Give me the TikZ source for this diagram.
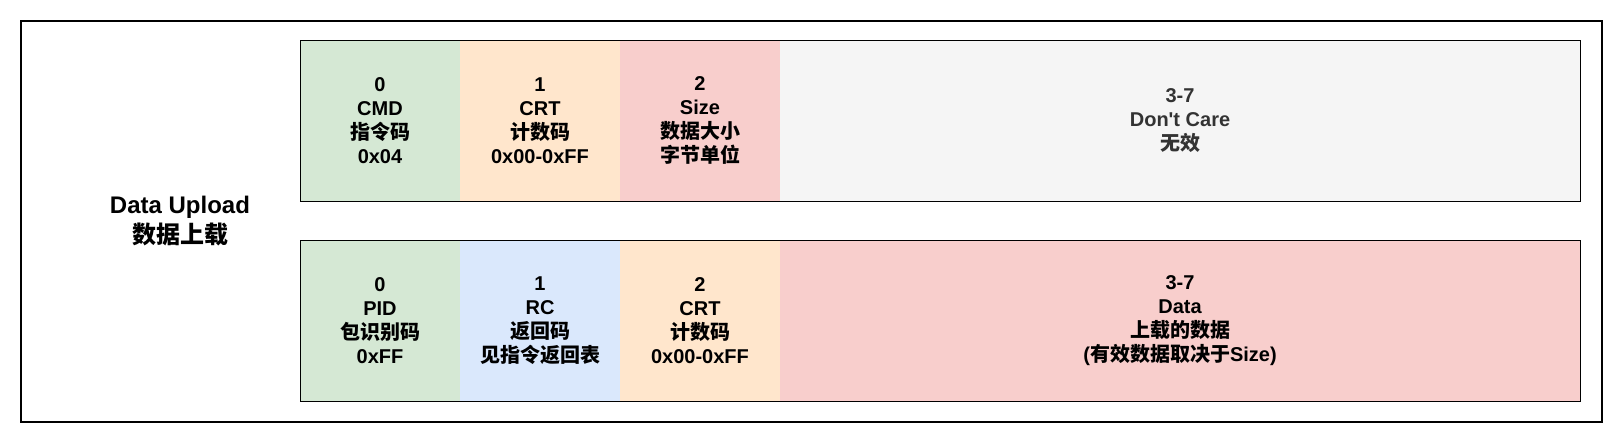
\documentclass[tikz,border=0pt]{standalone}
\usepackage{fontspec}
\setmainfont{Liberation Sans}[Ligatures=TeXOff]
\newfontfamily\cjk{Noto Sans CJK SC}
\definecolor{cgreen}{HTML}{D5E8D4}
\definecolor{corange}{HTML}{FFE6CC}
\definecolor{cred}{HTML}{F8CECC}
\definecolor{cgray}{HTML}{F5F5F5}
\definecolor{cblue}{HTML}{DAE8FC}
\definecolor{cdark}{HTML}{333333}
\begin{document}
\begin{tikzpicture}[x=1pt,y=-1pt,
  cell/.style={minimum width=160pt, minimum height=161pt, inner sep=0pt, outer sep=0pt,
    align=center, anchor=north west, font=\fontsize{20}{24}\selectfont\bfseries},
  wide/.style={cell, minimum width=800pt},
  rowframe/.style={draw=black, line width=1pt},
  label/.style={align=center, font=\fontsize{24}{29.5}\selectfont\bfseries}
]
\useasboundingbox (0,0) rectangle (1622,442);
\node[draw=black, line width=2pt, minimum width=1581pt, minimum height=401pt, anchor=north west, inner sep=0pt] (outer) at (20,20) {};
\node[label] (title) at (180,221) {Data Upload\\{\cjk 数据上载}};
% top row
\node[cell, fill=cgreen] (a0) at (300,40) {0\\CMD\\{\cjk 指令码}\\0x04};
\node[cell, fill=corange] (a1) at (460,40) {1\\CRT\\{\cjk 计数码}\\0x00-0xFF};
\node[cell, fill=cred] (a2) at (620,40) {2\\Size\\{\cjk 数据大小}\\{\cjk 字节单位}};
\node[wide, fill=cgray, text=cdark] (a3) at (780,40) {3-7\\Don't Care\\{\cjk 无效}};
\draw[rowframe] (a0.north west) rectangle (a3.south east);
% bottom row
\node[cell, fill=cgreen] (b0) at (300,240) {0\\PID\\{\cjk 包识别码}\\0xFF};
\node[cell, fill=cblue] (b1) at (460,240) {1\\RC\\{\cjk 返回码}\\{\cjk 见指令返回表}};
\node[cell, fill=corange] (b2) at (620,240) {2\\CRT\\{\cjk 计数码}\\0x00-0xFF};
\node[wide, fill=cred] (b3) at (780,240) {3-7\\Data\\{\cjk 上载的数据}\\({\cjk 有效数据取决于}Size)};
\draw[rowframe] (b0.north west) rectangle (b3.south east);
\end{tikzpicture}
\end{document}
